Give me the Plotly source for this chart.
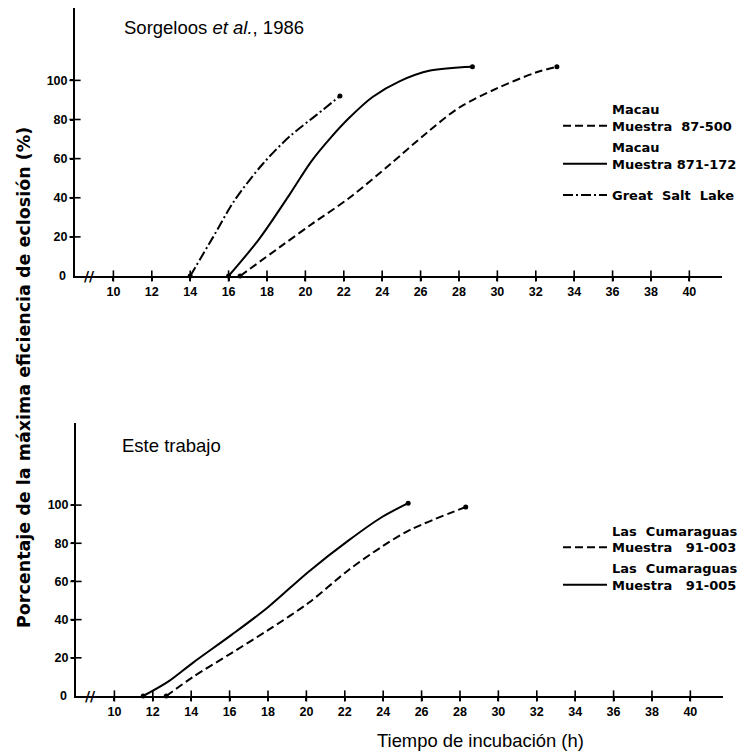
import plotly.graph_objects as go

# ---------------- data ----------------
X_TICKS = [10, 12, 14, 16, 18, 20, 22, 24, 26, 28, 30, 32, 34, 36, 38, 40]
Y_TICKS = [0, 20, 40, 60, 80, 100]

# Top panel (Sorgeloos et al., 1986)
gsl_x = [14, 15.2, 16.3, 17.8, 19.2, 20.6, 21.8]
gsl_y = [0, 20, 38.5, 57.5, 71.5, 82.5, 92]

m871_x = [16, 17.6, 19.2, 20.3, 21.3, 22.3, 23.5, 24.9, 26.5, 28.7]
m871_y = [0, 19, 42, 58.5, 70.5, 81, 91.5, 99.5, 105, 107]

m87_x = [16.6, 18.7, 20.4, 22.3, 24.4, 26.3, 28, 30, 32, 33.1]
m87_y = [0, 15, 27, 40, 57, 73, 86, 96, 104, 107]

# Bottom panel (Este trabajo)
c005_x = [11.5, 12.8, 14.1, 16.1, 18, 20.1, 22.2, 23.9, 25.3]
c005_y = [0, 7.5, 17.5, 32, 46.5, 65, 81.5, 93.5, 101]

c003_x = [12.7, 14.1, 16.1, 18, 20.1, 22.2, 23.9, 25.4, 28.3]
c003_y = [0, 10, 22.5, 34.5, 48.7, 66, 78, 87, 99]

X_RANGE = [8, 41.7]
TOP_Y_RANGE = [0, 137]
BOT_Y_RANGE = [0, 143]
AXIS_BREAK_X = 8.75

# ---------------- styles ----------------
BLACK = "#000000"
DASH = "8px,4px"
DASHDOT = "10px,3px,2px,3px"
LEG_FONT = dict(family="DejaVu Sans", size=13, color=BLACK, weight="bold")
W, H = 746, 753

fig = go.Figure()


def add_curve(x, y, name, dash, xa, ya, legend):
    fig.add_trace(go.Scatter(
        x=x, y=y, mode="lines", name=name,
        line=dict(color=BLACK, width=2, dash=dash, shape="spline", smoothing=0.9),
        xaxis=xa, yaxis=ya, legend=legend, cliponaxis=False))
    fig.add_trace(go.Scatter(
        x=[x[0], x[-1]], y=[y[0], y[-1]], mode="markers", marker=dict(color=BLACK, size=5),
        xaxis=xa, yaxis=ya, showlegend=False, cliponaxis=False, hoverinfo="skip"))


add_curve(m87_x, m87_y, "Macau<br>Muestra  87-500", DASH, "x", "y", "legend")
add_curve(m871_x, m871_y, "Macau<br>Muestra 871-172", "solid", "x", "y", "legend2")
add_curve(gsl_x, gsl_y, "Great  Salt  Lake", DASHDOT, "x", "y", "legend3")

add_curve(c003_x, c003_y, "Las  Cumaraguas<br>Muestra   91-003", DASH, "x2", "y2", "legend4")
add_curve(c005_x, c005_y, "Las  Cumaraguas<br>Muestra   91-005", "solid", "x2", "y2", "legend5")

# crossing tick marks, drawn from the tick arrays
for xa, ya in (("x", "y"), ("x2", "y2")):
    fig.add_trace(go.Scatter(
        x=X_TICKS, y=[0] * len(X_TICKS), mode="markers", xaxis=xa, yaxis=ya,
        marker=dict(symbol="line-ns", size=8, color=BLACK, line=dict(color=BLACK, width=1.6)),
        showlegend=False, cliponaxis=False, hoverinfo="skip"))
    fig.add_trace(go.Scatter(
        x=[X_RANGE[0]] * (len(Y_TICKS) - 1), y=Y_TICKS[1:], mode="markers", xaxis=xa, yaxis=ya,
        marker=dict(symbol="line-ew", size=8, color=BLACK, line=dict(color=BLACK, width=1.6)),
        showlegend=False, cliponaxis=False, hoverinfo="skip"))

TICK_FONT = dict(family="Liberation Sans", size=12.5, color=BLACK, weight="bold")

xaxis_common = dict(range=X_RANGE, tickvals=X_TICKS, ticktext=[str(v) for v in X_TICKS],
                    showline=True, linecolor=BLACK, linewidth=2, ticks="outside", ticklen=3,
                    tickwidth=1.5, tickcolor=BLACK, showgrid=False,
                    zeroline=False, tickfont=TICK_FONT, ticklabelstandoff=0)
yaxis_common = dict(tickvals=Y_TICKS[1:], ticktext=[str(v) for v in Y_TICKS[1:]],
                    showline=True, linecolor=BLACK, linewidth=2, ticks="outside", ticklen=3,
                    tickwidth=1.5, tickcolor=BLACK, showgrid=False,
                    zeroline=False, tickfont=TICK_FONT, ticklabelstandoff=0)


def leg(y_mid):
    return dict(x=0.748, y=1 - y_mid / H, xanchor="left", yanchor="middle", font=LEG_FONT,
                valign="bottom", bgcolor="rgba(0,0,0,0)", itemwidth=44)


fig.update_layout(
    width=W, height=H, margin=dict(l=0, r=0, t=0, b=0),
    paper_bgcolor="white", plot_bgcolor="white",
    xaxis=dict(domain=[75 / W, 722 / W], anchor="y", **xaxis_common),
    yaxis=dict(domain=[1 - 276 / H, 1 - 8 / H], anchor="x", range=TOP_Y_RANGE, **yaxis_common),
    xaxis2=dict(domain=[76 / W, 723 / W], anchor="y2", **xaxis_common),
    yaxis2=dict(domain=[1 - 696 / H, 1 - 423 / H], anchor="x2", range=BOT_Y_RANGE, **yaxis_common),
    legend=leg(117.5), legend2=leg(155.5), legend3=leg(195),
    legend4=leg(539), legend5=leg(576.5),
    showlegend=True,
    annotations=[
        dict(text="0", xref="paper", yref="y", x=68 / W, y=0, xanchor="right", yanchor="middle",
             showarrow=False, font=TICK_FONT),
        dict(text="0", xref="paper", yref="y2", x=69 / W, y=0, xanchor="right", yanchor="middle",
             showarrow=False, font=TICK_FONT),
        dict(text="Sorgeloos <i>et al.</i>, 1986", xref="paper", yref="paper", x=122 / W, y=1 - 28 / H,
             xanchor="left", yanchor="middle", showarrow=False,
             font=dict(family="Liberation Sans", size=18.5, color=BLACK)),
        dict(text="Este trabajo", xref="paper", yref="paper", x=120 / W, y=1 - 445 / H,
             xanchor="left", yanchor="middle", showarrow=False,
             font=dict(family="Liberation Sans", size=18.5, color=BLACK)),
        dict(text="Tiempo de incubación (h)", xref="paper", yref="paper", x=480 / W, y=1 - 740 / H,
             xanchor="center", yanchor="middle", showarrow=False,
             font=dict(family="Liberation Sans", size=18.4, color=BLACK)),
        dict(text="Porcentaje de la máxima eficiencia de eclosión (%)", xref="paper", yref="paper",
             x=24 / W, y=1 - 378 / H, xanchor="center", yanchor="middle", textangle=-90, showarrow=False,
             font=dict(family="DejaVu Sans", size=17.5, color=BLACK, weight="bold")),
        dict(text="//", xref="x", yref="y", x=AXIS_BREAK_X, y=0, showarrow=False,
             font=dict(family="DejaVu Sans", size=14, color=BLACK, weight="bold")),
        dict(text="//", xref="x2", yref="y2", x=AXIS_BREAK_X, y=0, showarrow=False,
             font=dict(family="DejaVu Sans", size=14, color=BLACK, weight="bold")),
    ],
)

fig.write_html("out.html", config={"displayModeBar": False},
               post_script="document.body.style.margin='0px';")
